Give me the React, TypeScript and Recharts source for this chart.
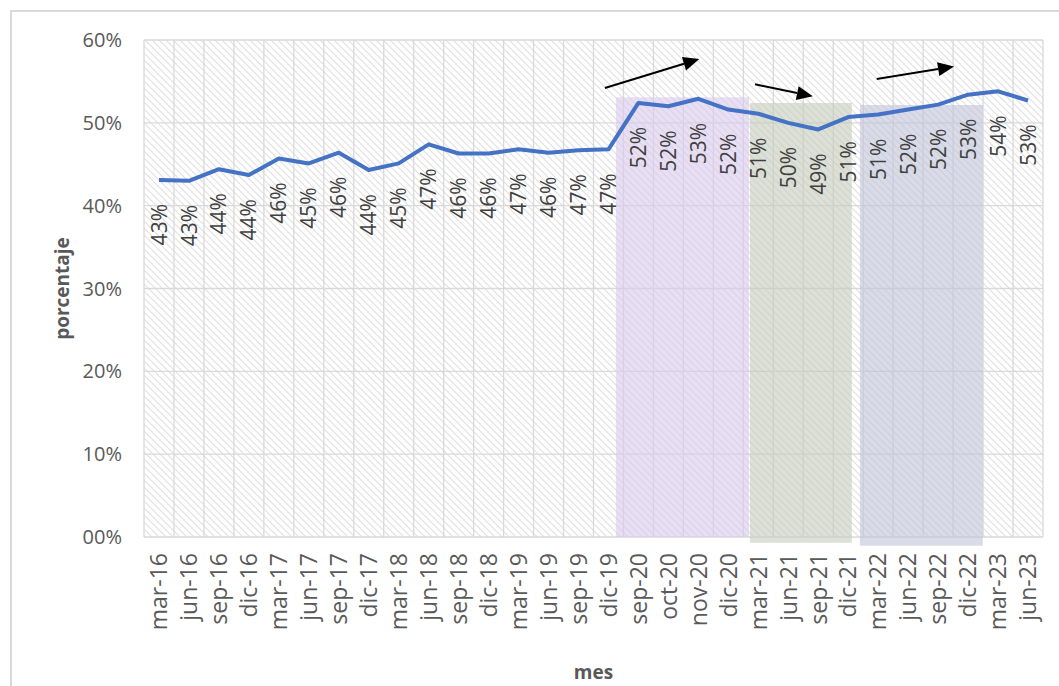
import React from 'react';
import { LineChart, Line, XAxis, YAxis, CartesianGrid, ReferenceArea, ReferenceLine, LabelList } from 'recharts';

// meses (eje x)
const meses = [
  'mar-16', 'jun-16', 'sep-16', 'dic-16', 'mar-17', 'jun-17', 'sep-17', 'dic-17',
  'mar-18', 'jun-18', 'sep-18', 'dic-18', 'mar-19', 'jun-19', 'sep-19', 'dic-19',
  'sep-20', 'oct-20', 'nov-20', 'dic-20', 'mar-21', 'jun-21', 'sep-21', 'dic-21',
  'mar-22', 'jun-22', 'sep-22', 'dic-22', 'mar-23', 'jun-23',
];

// porcentaje (%)
const porcentaje = [
  43.1, 43.0, 44.4, 43.7, 45.7, 45.1, 46.4, 44.3,
  45.1, 47.4, 46.3, 46.3, 46.8, 46.4, 46.7, 46.8,
  52.4, 52.0, 52.9, 51.6, 51.1, 50.0, 49.2, 50.7,
  51.0, 51.6, 52.2, 53.4, 53.8, 52.7,
];

const yTicks = [0, 10, 20, 30, 40, 50, 60];

// periodos sombreados: [inicio, fin, base, tope] en unidades de los ejes
const periodos = [
  [15.25, 19.69, 0, 53.1],
  [19.72, 23.12, -0.7, 52.4],
  [23.39, 27.49, -1.05, 52.15],
];
const coloresPeriodo = ['#D9C9EC', '#C5CBBB', '#C0C5D9'];

// flechas de tendencia: [x inicio, y inicio, x fin, y fin]
const tendencias = [
  [14.88, 54.2, 18.03, 57.7],
  [19.89, 54.65, 21.82, 53.2],
  [23.95, 55.3, 26.53, 56.8],
];

const data = meses.map((mes, i) => ({ idx: i, mes, valor: porcentaje[i] }));

const FONT = '"Open Sans", "Noto Sans", sans-serif';

const XTick = (props: any) => {
  const { x, y, payload } = props;
  return (
    <text x={x} y={y} transform={`rotate(-90, ${x}, ${y})`} textAnchor="end" dy="0.36em"
      fill="#595959" fontSize={23} fontFamily={FONT}>
      {meses[payload.value]}
    </text>
  );
};

const Etiqueta = (props: any) => {
  const { x, y, value } = props;
  const ty = y + 24;
  return (
    <text x={x} y={ty} transform={`rotate(-90, ${x}, ${ty})`} textAnchor="end" dy="0.36em"
      fill="#404040" fontSize={21} fontFamily={FONT}>
      {`${Math.round(value)}%`}
    </text>
  );
};

const Flecha = (props: any) => {
  const { x1, y1, x2, y2 } = props;
  const ang = Math.atan2(y2 - y1, x2 - x1);
  const len = 16;
  const half = 7;
  const bx = x2 - len * Math.cos(ang);
  const by = y2 - len * Math.sin(ang);
  const px = -Math.sin(ang) * half;
  const py = Math.cos(ang) * half;
  return (
    <g>
      <line x1={x1} y1={y1} x2={bx} y2={by} stroke="#000" strokeWidth={2} />
      <polygon points={`${x2},${y2} ${bx + px},${by + py} ${bx - px},${by - py}`} fill="#000" />
    </g>
  );
};

const EtiquetaY = (props: any) => {
  const { viewBox } = props;
  const cx = 62;
  const cy = viewBox.y + viewBox.height / 2;
  return (
    <text x={cx} y={cy} transform={`rotate(-90, ${cx}, ${cy})`} textAnchor="middle" dy="0.36em"
      fill="#595959" fontSize={19} fontWeight="bold" fontFamily={FONT}>
      porcentaje
    </text>
  );
};

const EtiquetaX = (props: any) => {
  const { viewBox } = props;
  const cx = viewBox.x + viewBox.width / 2;
  return (
    <text x={cx} y={viewBox.y + viewBox.height - 7} textAnchor="middle"
      fill="#595959" fontSize={19} fontWeight="bold" fontFamily={FONT}>
      mes
    </text>
  );
};

const App = () => {
  return (
    <div style={{ position: 'absolute', left: 0, top: 0, width: 1059, height: 686, background: '#fff', fontFamily: FONT }}>
      <style>{'body{margin:0;overflow:hidden}'}</style>
      <div style={{ position: 'absolute', left: 10, top: 10, right: 0, bottom: 0, borderLeft: '2px solid #D9D9D9', borderTop: '2px solid #D9D9D9' }} />
      <div style={{ position: 'absolute', left: 0, top: 0 }}>
        <LineChart width={1059} height={686} data={data} margin={{ top: 40, right: 16, bottom: 0, left: 0 }}>
          <defs>
            <pattern id="trama" patternUnits="userSpaceOnUse" width="7" height="7">
              <rect width="7" height="7" fill="#fff" />
              <path d="M-1,-1 L8,8 M-1,6 L1,8 M6,-1 L8,1" stroke="#E0E0E0" strokeWidth={1.1} />
            </pattern>
          </defs>
          <CartesianGrid
            stroke="#D9D9D9"
            strokeWidth={1.3}
            fill="url(#trama)"
            fillOpacity={1}
            verticalCoordinatesGenerator={({ offset }: any) =>
              meses.map((_, i) => offset.left + (i * offset.width) / meses.length).concat(offset.left + offset.width)
            }
          />
          <XAxis
            type="number"
            dataKey="idx"
            domain={[-0.5, meses.length - 0.5]}
            ticks={meses.map((_, i) => i)}
            interval={0}
            axisLine={false}
            tickLine={false}
            tickSize={0}
            tickMargin={16}
            height={149}
            tick={<XTick />}
            label={<EtiquetaX />}
          />
          <YAxis
            domain={[0, 60]}
            ticks={yTicks}
            width={144}
            axisLine={false}
            tickLine={false}
            tickSize={0}
            tickMargin={22}
            tickFormatter={(v: number) => (v === 0 ? '00%' : `${v}%`)}
            tick={{ fill: '#595959', fontSize: 20, fontFamily: FONT }}
            label={<EtiquetaY />}
          />
          {periodos.map(([x1, x2, y1, y2], i) => (
            <ReferenceArea key={i} x1={x1} x2={x2} y1={y1} y2={y2} fill={coloresPeriodo[i]}
              fillOpacity={0.6} stroke="none" ifOverflow="visible" />
          ))}
          {tendencias.map(([xa, ya, xb, yb], i) => (
            <ReferenceLine key={i} segment={[{ x: xa, y: ya }, { x: xb, y: yb }]} shape={<Flecha />} ifOverflow="visible" />
          ))}
          <Line type="linear" dataKey="valor" stroke="#4472C4" strokeWidth={4} dot={false}
            strokeLinejoin="round" isAnimationActive={false}>
            <LabelList dataKey="valor" content={<Etiqueta />} />
          </Line>
        </LineChart>
      </div>
    </div>
  );
};

export default App;
